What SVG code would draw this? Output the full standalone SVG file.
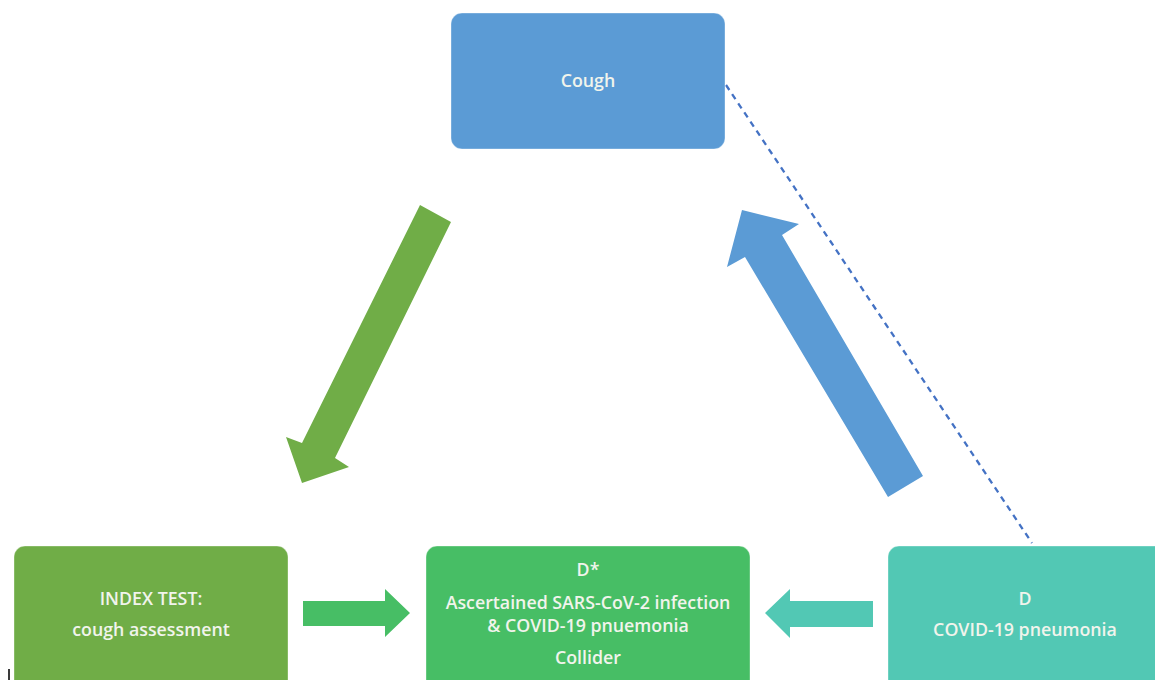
<svg xmlns="http://www.w3.org/2000/svg" width="1155" height="680" viewBox="0 0 1155 680">
<style>
.lbl{font-family:"Open Sans","Liberation Sans",sans-serif;font-size:17.8px;font-weight:600;fill:#F1F4EC;text-anchor:middle}
.box{stroke:#ffffff;stroke-opacity:0.35;stroke-width:1}
</style>
<rect width="1155" height="680" fill="#ffffff"/>
<g id="connectors">
<line x1="726" y1="85" x2="1032" y2="543" stroke="#4472C4" stroke-width="2.3" stroke-dasharray="6,5"/>
<polygon id="arrow-cough-index" fill="#70AD47" points="420,205 451,222 335,458 349,467 302,483 286,437 302,443"/>
<polygon id="arrow-d-cough" fill="#5B9BD5" points="888,497 923,476 782,235 799,224 742,210 727,267 745,257"/>
<polygon id="arrow-index-dstar" fill="#47BE65" points="303,601 385,601 385,589 410,613 385,637 385,626 303,626"/>
<polygon id="arrow-d-dstar" fill="#52C8B4" points="873,601 790,601 790,589 765,613 790,638 790,627 873,627"/>
</g>
<g id="cough">
<rect class="box" x="451" y="13" width="274" height="136" rx="11" fill="#5B9BD5"/>
<text class="lbl" x="588" y="87">Cough</text>
</g>
<g id="index-test">
<rect class="box" x="14" y="546" width="274" height="150" rx="11" fill="#70AD47"/>
<text class="lbl" x="151" y="605">INDEX TEST:</text>
<text class="lbl" x="151" y="636">cough assessment</text>
</g>
<g id="dstar">
<rect class="box" x="426" y="546" width="324" height="150" rx="11" fill="#47BE65"/>
<text class="lbl" x="588" y="576">D*</text>
<text class="lbl" x="588" y="609">Ascertained SARS-CoV-2 infection</text>
<text class="lbl" x="588" y="632">&amp; COVID-19 pnuemonia</text>
<text class="lbl" x="588" y="664">Collider</text>
</g>
<g id="d">
<rect class="box" x="888" y="546" width="290" height="150" rx="11" fill="#52C8B4"/>
<text class="lbl" x="1025" y="605">D</text>
<text class="lbl" x="1025" y="636">COVID-19 pneumonia</text>
</g>
<rect x="8" y="669" width="2" height="11" fill="#3a3a3a"/>
</svg>
